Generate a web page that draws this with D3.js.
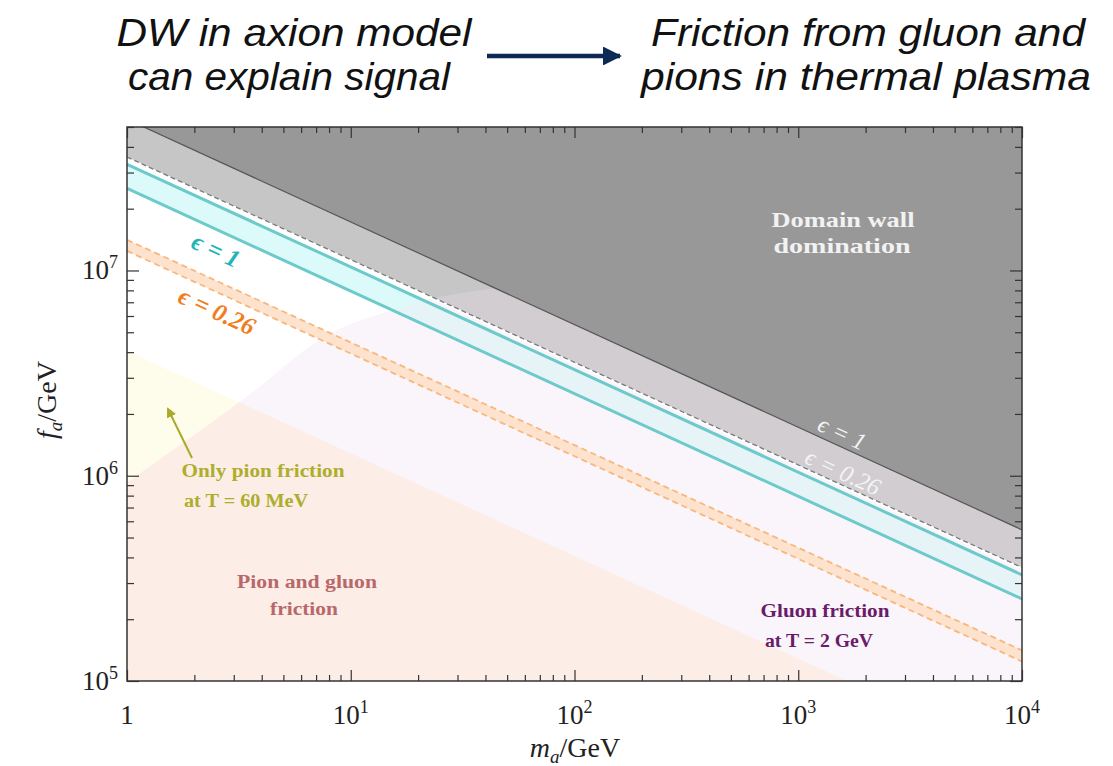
<!DOCTYPE html>
<html><head><meta charset="utf-8">
<script src="https://cdn.jsdelivr.net/npm/d3@7"></script>
<style>body{margin:0;background:#fff}svg{display:block}</style>
</head><body>
<svg id="c" width="1113" height="766"></svg>
<script>
// ---------- data ----------
const xDomain = [1, 1e4];
const yDomain = [1e5, 5e7];
const xTickLabels = [["1", ""], ["10", "1"], ["10", "2"], ["10", "3"], ["10", "4"]];
const xTickValues = [1, 10, 100, 1000, 10000];
const yTickLabels = [["10", "5"], ["10", "6"], ["10", "7"]];
const yTickValues = [1e5, 1e6, 1e7];
// boundaries (m_a [GeV], f_a [GeV])
const dwDomination = [[1, 5.45e7], [1e4, 5.45e5]];
const dwEps026 = [[1, 3.57e7], [1e4, 3.57e5]];
const eps1Upper = [[1, 3.29e7], [1e4, 3.29e5]];
const eps1Lower = [[1, 2.51e7], [1e4, 2.51e5]];
const eps026Upper = [[1, 1.41e7], [1e4, 1.41e5]];
const eps026Lower = [[1, 1.245e7], [1e4, 1.245e5]];
const pionBoundary = [[1, 4.06e6], [1e4, 4.06e4]];
const gluonBoundary = [[1, 9.25e5], [3.3, 2.35e6], [8.3, 5.0e6], [13.9, 6.2e6], [21.9, 7.2e6], [37.8, 8.0e6], [100, 8.8e6], [1e4, 9.5e6]];

// ---------- layout ----------
const PL = 127, PR = 1022, PT = 127, PB = 681;
const svg = d3.select("#c");
const x = d3.scaleLog().domain(xDomain).range([PL, PR]);
const y = d3.scaleLog().domain(yDomain).range([PB, PT]);

const defs = svg.append("defs");
defs.append("clipPath").attr("id", "plot").append("rect")
  .attr("x", PL).attr("y", PT).attr("width", PR - PL).attr("height", PB - PT);
const gluonArea = d3.area().curve(d3.curveMonotoneX)
  .x(d => x(d[0])).y0(PB + 10).y1(d => y(d[1]));
defs.append("clipPath").attr("id", "gluon").append("path").attr("d", gluonArea(gluonBoundary));
defs.append("marker").attr("id", "olivehead").attr("viewBox", "0 0 10 10").attr("refX", 8).attr("refY", 5)
  .attr("markerWidth", 5).attr("markerHeight", 5).attr("orient", "auto")
  .append("path").attr("d", "M0,0L10,5L0,10z").attr("fill", "#a9aa26");
defs.append("marker").attr("id", "navyhead").attr("viewBox", "0 0 10 10").attr("refX", 9).attr("refY", 5)
  .attr("markerWidth", 4.2).attr("markerHeight", 4.2).attr("orient", "auto")
  .append("path").attr("d", "M0,0L10,5L0,10z").attr("fill", "#0d2a55");

const g = svg.append("g").attr("clip-path", "url(#plot)");
g.append("rect").attr("x", PL).attr("y", PT).attr("width", PR - PL).attr("height", PB - PT).attr("fill", "#fff");

const below = d3.area().x(d => x(d[0])).y0(PB + 10).y1(d => y(d[1]));
const above = d3.area().x(d => x(d[0])).y0(d => y(d[1])).y1(PT - 10);
const band = (up, lo) => up.map((d, i) => [d[0], d[1], lo[i][1]]);
const bandArea = d3.area().x(d => x(d[0])).y0(d => y(d[2])).y1(d => y(d[1]));
const line = d3.line().x(d => x(d[0])).y(d => y(d[1]));

// pion region (yellow)
g.append("path").attr("d", below(pionBoundary)).attr("fill", "#fefdec");
// gluon region (lavender)
g.append("path").attr("d", gluonArea(gluonBoundary)).attr("fill", "#f9f5fa");
// both (pink)
g.append("g").attr("clip-path", "url(#gluon)").append("path").attr("d", below(pionBoundary)).attr("fill", "#fcede7");

// eps=1 band fill
const cyanBand = band(eps1Upper, eps1Lower);
g.append("path").attr("d", bandArea(cyanBand)).attr("fill", "#dcfafa");
g.append("g").attr("clip-path", "url(#gluon)").append("path").attr("d", bandArea(cyanBand)).attr("fill", "#e6f4f8");
// eps=0.26 band fill
const orangeBand = band(eps026Upper, eps026Lower);
g.append("path").attr("d", bandArea(orangeBand)).attr("fill", "#fde3cd");
// light gray band
const grayBand = band(dwDomination, dwEps026);
g.append("path").attr("d", bandArea(grayBand)).attr("fill", "#c6c6c6");
g.append("g").attr("clip-path", "url(#gluon)").append("path").attr("d", bandArea(grayBand)).attr("fill", "#d1cdd1");
// dark region
g.append("path").attr("d", above(dwDomination)).attr("fill", "#989898");

// lines
g.append("path").attr("d", line(eps1Upper)).attr("fill", "none").attr("stroke", "#6dcaca").attr("stroke-width", 3);
g.append("path").attr("d", line(eps1Lower)).attr("fill", "none").attr("stroke", "#6dcaca").attr("stroke-width", 3);
[eps026Upper, eps026Lower].forEach(l => g.append("path").attr("d", line(l)).attr("fill", "none")
  .attr("stroke", "#f8b77e").attr("stroke-width", 1.8).attr("stroke-dasharray", "6,4"));
g.append("path").attr("d", line(dwEps026)).attr("fill", "none").attr("stroke", "#fff").attr("stroke-width", 2.4)
  .attr("transform", "translate(0,1.2)");
g.append("path").attr("d", line(dwEps026)).attr("fill", "none").attr("stroke", "#7a7a7a").attr("stroke-width", 1.3)
  .attr("stroke-dasharray", "5,3");
g.append("path").attr("d", line(dwDomination)).attr("fill", "none").attr("stroke", "#555").attr("stroke-width", 1.2);

// ---------- axes ----------
const minorX = [], minorY = [];
for (let d = 0; d < 4; d++) for (let k = 2; k <= 9; k++) minorX.push(k * Math.pow(10, d));
for (let d = 5; d < 8; d++) for (let k = 2; k <= 9; k++) { const v = k * Math.pow(10, d); if (v <= yDomain[1]) minorY.push(v); }
const ax = svg.append("g").attr("class", "ticks");
function addAxis(axisGen, tx, ty) {
  const a = ax.append("g").attr("transform", `translate(${tx},${ty})`).call(axisGen);
  a.select(".domain").remove();
  a.selectAll("line").attr("stroke", "#333").attr("stroke-width", 1.2);
}
addAxis(d3.axisBottom(x).tickValues(xTickValues).tickSize(-11).tickFormat(""), 0, PB);
addAxis(d3.axisBottom(x).tickValues(minorX).tickSize(-6).tickFormat(""), 0, PB);
addAxis(d3.axisTop(x).tickValues(xTickValues).tickSize(-11).tickFormat(""), 0, PT);
addAxis(d3.axisTop(x).tickValues(minorX).tickSize(-6).tickFormat(""), 0, PT);
addAxis(d3.axisLeft(y).tickValues(yTickValues).tickSize(-12).tickFormat(""), PL, 0);
addAxis(d3.axisLeft(y).tickValues(minorY).tickSize(-7).tickFormat(""), PL, 0);
addAxis(d3.axisRight(y).tickValues(yTickValues).tickSize(-12).tickFormat(""), PR, 0);
addAxis(d3.axisRight(y).tickValues(minorY).tickSize(-7).tickFormat(""), PR, 0);
svg.append("rect").attr("x", PL).attr("y", PT).attr("width", PR - PL).attr("height", PB - PT)
  .attr("fill", "none").attr("stroke", "#333").attr("stroke-width", 1.5);

const serif = "'Liberation Serif','DejaVu Serif',serif";
xTickValues.forEach((v, i) => {
  const t = svg.append("text").attr("x", x(v)).attr("y", 724).attr("text-anchor", "middle")
    .attr("font-family", serif).attr("font-size", 27).attr("fill", "#222");
  t.append("tspan").text(xTickLabels[i][0]);
  if (xTickLabels[i][1]) t.append("tspan").attr("dy", -11).attr("font-size", 18).text(xTickLabels[i][1]);
});
yTickValues.forEach((v, i) => {
  const t = svg.append("text").attr("x", 118).attr("y", y(v) + 9).attr("text-anchor", "end")
    .attr("font-family", serif).attr("font-size", 27).attr("fill", "#222");
  t.append("tspan").text(yTickLabels[i][0]);
  t.append("tspan").attr("dy", -11).attr("font-size", 18).text(yTickLabels[i][1]);
});
// axis titles
const xt = svg.append("text").attr("x", 575).attr("y", 757).attr("text-anchor", "middle")
  .attr("font-family", serif).attr("font-size", 28).attr("fill", "#222");
xt.append("tspan").attr("font-style", "italic").text("m");
xt.append("tspan").attr("font-style", "italic").attr("font-size", 19).attr("dy", 6).text("a");
xt.append("tspan").attr("dy", -6).text("/GeV");
const yt = svg.append("text").attr("transform", "translate(56,400) rotate(-90)").attr("text-anchor", "middle")
  .attr("font-family", serif).attr("font-size", 28).attr("fill", "#222");
yt.append("tspan").attr("font-style", "italic").text("f");
yt.append("tspan").attr("font-style", "italic").attr("font-size", 19).attr("dy", 6).text("a");
yt.append("tspan").attr("dy", -6).text("/GeV");

// ---------- region labels ----------
function label(txt, cx, by, size, color, len, weight) {
  svg.append("text").attr("x", cx).attr("y", by).attr("text-anchor", "middle")
    .attr("font-family", serif).attr("font-weight", weight || "bold").attr("font-size", size)
    .attr("fill", color).attr("textLength", len).attr("lengthAdjust", "spacingAndGlyphs").text(txt);
}
label("Domain wall", 843, 227, 21, "#f2f2f2", 143);
label("domination", 842, 253, 21, "#f2f2f2", 137);
label("Only pion friction", 263, 477, 18, "#adae2c", 163);
label("at T = 60 MeV", 246, 507, 18, "#adae2c", 124);
label("Pion and gluon", 307, 588, 18, "#b9686a", 140);
label("friction", 304, 615, 18, "#b9686a", 68);
label("Gluon friction", 825, 617, 19, "#6a1b6a", 129);
label("at T = 2 GeV", 819, 647, 19, "#6a1b6a", 108);

svg.append("line").attr("x1", 192).attr("y1", 458).attr("x2", 168).attr("y2", 409)
  .attr("stroke", "#a9aa26").attr("stroke-width", 2).attr("marker-end", "url(#olivehead)");

// rotated epsilon labels
const ang = Math.atan2(y(eps1Upper[1][1]) - y(eps1Upper[0][1]), x(eps1Upper[1][0]) - x(eps1Upper[0][0])) * 180 / Math.PI;
function eps(txt, cx, cy, size, color, weight) {
  svg.append("text").attr("transform", `translate(${cx},${cy}) rotate(${ang})`).attr("text-anchor", "middle")
    .attr("dominant-baseline", "central").attr("font-family", serif).attr("font-style", "italic")
    .attr("font-weight", weight).attr("font-size", size).attr("fill", color).text(txt);
}
eps("ϵ = 1", 216, 250, 25, "#23b4b4", "bold");
eps("ϵ = 0.26", 217, 311, 25, "#f07e1c", "bold");
eps("ϵ = 1", 842, 433, 24, "#f4f4f4", "normal");
eps("ϵ = 0.26", 843, 472, 24, "#f4f4f4", "normal");

// ---------- title ----------
const sans = "'Liberation Sans',Arial,sans-serif";
function title(txt, cx, by, len) {
  svg.append("text").attr("x", cx).attr("y", by).attr("text-anchor", "middle")
    .attr("font-family", sans).attr("font-style", "italic").attr("font-size", 39).attr("fill", "#111")
    .attr("textLength", len).attr("lengthAdjust", "spacingAndGlyphs").text(txt);
}
title("DW in axion model", 294, 46, 355);
title("can explain signal", 289, 90, 322);
title("Friction from gluon and", 868, 46, 434);
title("pions in thermal plasma", 866, 90, 450);
svg.append("line").attr("x1", 487).attr("y1", 56).attr("x2", 620).attr("y2", 56)
  .attr("stroke", "#0d2a55").attr("stroke-width", 4.5).attr("marker-end", "url(#navyhead)");
</script>
</body></html>
